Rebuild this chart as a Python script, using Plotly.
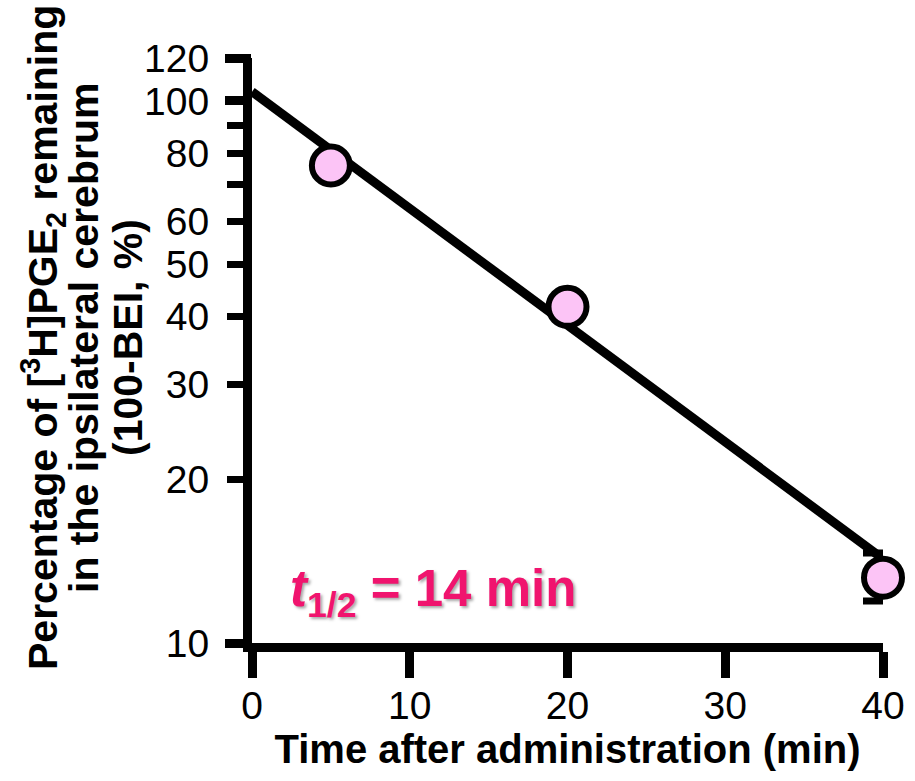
import math
import plotly.graph_objects as go

# data
time_min = [5, 20, 40]
pct_remaining = [76, 41.7, 13.2]
err_plus = [0, 0, 1.45]
err_minus = [0, 0, 1.25]
fit_time = [0, 40]
fit_pct = [104, 14.3]
y_label_vals = [10, 20, 30, 40, 50, 60, 80, 100, 120]
y_minor_vals = [70, 90]
y_long_vals = [10, 100, 120]
x_tick_vals = [0, 10, 20, 30, 40]
y_title_lines = ["Percentage of [<sup>3</sup>H]PGE<sub>2</sub> remaining",
                 "in the ipsilateral cerebrum",
                 "(100-BEI, %)"]

FONT = "Liberation Sans, Arial, sans-serif"
yr = [math.log10(10), math.log10(120)]

W, H = 915, 781
L, R, T, B = 252, 32, 58, 138
PW, PH = W - L - R, H - T - B


def px_x(px):
    return (px - L) / PW


def px_y(py):
    return (H - B - py) / PH


fig = go.Figure()
fig.add_trace(go.Scatter(x=fit_time, y=fit_pct, mode="lines",
                         line=dict(color="black", width=9), showlegend=False, hoverinfo="skip"))
fig.add_trace(go.Scatter(x=time_min, y=pct_remaining, mode="markers",
                         marker=dict(size=38, color="#FCC4F6", line=dict(color="black", width=6)),
                         error_y=dict(type="data", symmetric=False, array=err_plus, arrayminus=err_minus,
                                      color="black", thickness=7, width=20),
                         showlegend=False, cliponaxis=False))
# invisible trace to carry the long-tick overlay axis
fig.add_trace(go.Scatter(x=[fit_time[0]], y=[fit_pct[0]], yaxis="y2", mode="markers",
                         marker=dict(opacity=0), showlegend=False, hoverinfo="skip"))

annotations = []
for txt, cx in zip(y_title_lines, [43, 84, 128]):
    annotations.append(dict(x=px_x(cx), y=px_y(338), xref="paper", yref="paper",
                            text="<b>" + txt + "</b>", textangle=-90, showarrow=False,
                            font=dict(size=41, family=FONT, color="black"),
                            xanchor="center", yanchor="middle"))
annotations.append(dict(x=px_x(433), y=px_y(592), xref="paper", yref="paper",
                        text="<b><i>t</i><sub>1/2</sub> = 14 min</b>", showarrow=False,
                        font=dict(size=51, color="#F0146E", family=FONT,
                                  shadow="2px 2px 3px rgba(0,0,0,0.35)"),
                        xanchor="center", yanchor="middle"))

fig.update_layout(
    width=W, height=H,
    margin=dict(l=L, r=R, t=T, b=B, autoexpand=False),
    paper_bgcolor="white", plot_bgcolor="white",
    font=dict(family=FONT, color="black"),
    xaxis=dict(range=[0, 40], tickvals=x_tick_vals, showgrid=False, zeroline=False,
               automargin=False,
               showline=True, linecolor="black", linewidth=9,
               ticks="outside", ticklen=26, tickwidth=9, tickcolor="black",
               ticklabelstandoff=-6,
               tickfont=dict(size=39, family=FONT),
               title=dict(text="<b>Time after administration (min)</b>",
                          font=dict(size=40, family=FONT), standoff=4)),
    yaxis=dict(type="log", range=yr, tickvals=y_label_vals,
               ticktext=[str(v) for v in y_label_vals],
               showgrid=False, zeroline=False, automargin=False,
               showline=True, linecolor="black", linewidth=9,
               ticks="outside", ticklen=16, tickwidth=7, tickcolor="black",
               ticklabelstandoff=10,
               minor=dict(tickvals=y_minor_vals, ticks="outside", ticklen=16, tickwidth=7,
                          tickcolor="black", showgrid=False),
               tickfont=dict(size=39, family=FONT)),
    yaxis2=dict(type="log", range=yr, overlaying="y", side="left", anchor="x",
                automargin=False,
                tickvals=y_long_vals, showticklabels=False, showgrid=False, zeroline=False,
                showline=False, ticks="outside", ticklen=26, tickwidth=9, tickcolor="black"),
    annotations=annotations,
)

fig.write_html("out.html", config={"displayModeBar": False},
               post_script="document.body.style.margin='0';document.body.style.overflow='hidden';")
